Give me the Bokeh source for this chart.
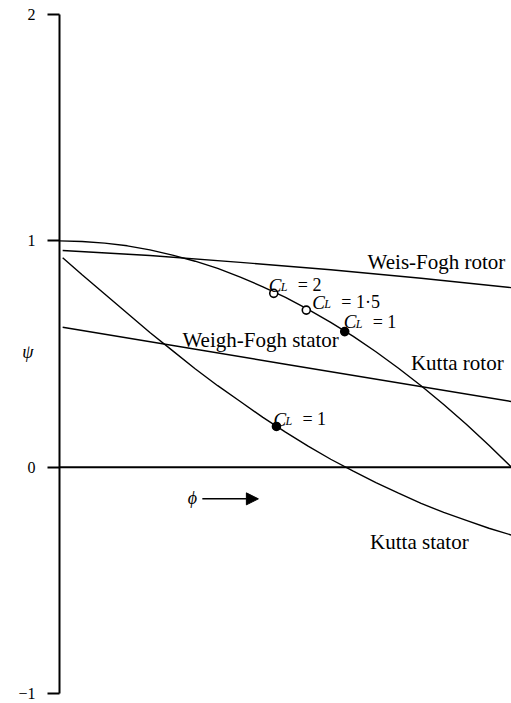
from bokeh.plotting import figure
from bokeh.models import Range1d, FixedTicker, Span, Arrow, NormalHead, ColumnDataSource
from bokeh.core.properties import value
from bokeh.embed import file_html
from bokeh.resources import INLINE

# Loading coefficient psi against flow coefficient phi for four blade cascades
kutta_rotor_phi = [0.0, 0.05, 0.1, 0.15, 0.2, 0.25, 0.3, 0.35, 0.4, 0.45, 0.5,
                   0.55, 0.6, 0.65, 0.7, 0.75, 0.8, 0.85, 0.9, 0.95, 1.0]
kutta_rotor_psi = [1.0, 0.997, 0.99, 0.978, 0.96, 0.937, 0.91, 0.878, 0.84, 0.797, 0.75,
                   0.697, 0.64, 0.578, 0.51, 0.437, 0.36, 0.277, 0.19, 0.097, 0.0]

kutta_stator_phi = [0.007, 0.05, 0.1, 0.15, 0.2, 0.25, 0.3, 0.35, 0.4, 0.45, 0.5,
                    0.55, 0.6, 0.65, 0.7, 0.75, 0.8, 0.85, 0.9, 0.95, 1.0]
kutta_stator_psi = [0.925, 0.85, 0.765, 0.68, 0.595, 0.515, 0.435, 0.36, 0.29, 0.22, 0.155,
                    0.093, 0.035, -0.018, -0.068, -0.115, -0.16, -0.2, -0.235, -0.27, -0.30]

weis_fogh_rotor_phi = [0.007, 0.2, 0.4, 0.6, 0.8, 1.0]
weis_fogh_rotor_psi = [0.957, 0.935, 0.905, 0.872, 0.835, 0.793]

weis_fogh_stator_phi = [0.007, 0.5, 1.0]
weis_fogh_stator_psi = [0.618, 0.455, 0.29]

# Operating points marked by lift coefficient
cl_phi = [0.474, 0.546, 0.631, 0.48]
cl_psi = [0.768, 0.694, 0.599, 0.18]
cl_values = ["2", "1·5", "1", "1"]
cl_filled = [False, False, True, True]

# y axis ticks
y_ticks = [-1, 0, 1, 2]
y_tick_labels = ["\u22121", "0", "1", "2"]

SERIF = value("Liberation Serif")
INK = "black"

p = figure(width=511, height=703,
           x_range=Range1d(0, 1), y_range=Range1d(-1.0442, 2.0619),
           output_backend="svg", toolbar_location=None,
           x_axis_location=None,
           min_border_left=59, min_border_right=0,
           min_border_top=0, min_border_bottom=0)
p.grid.visible = False
p.outline_line_color = None
p.background_fill_color = "white"
p.border_fill_color = "white"

ax = p.yaxis[0]
ax.ticker = FixedTicker(ticks=y_ticks, minor_ticks=[])
ax.major_label_overrides = dict(zip(y_ticks, y_tick_labels))
ax.bounds = (-1, 2)
ax.axis_line_width = 2
ax.axis_line_color = INK
ax.major_tick_in = 0
ax.major_tick_out = 12
ax.major_tick_line_width = 2
ax.major_tick_line_color = INK
ax.minor_tick_out = 0
ax.minor_tick_in = 0
ax.major_label_standoff = 12
ax.major_label_text_font = "Liberation Serif"
ax.major_label_text_font_size = "16px"
ax.major_label_text_color = INK
ax.axis_label = "\u03c8"
ax.axis_label_orientation = "horizontal"
ax.axis_label_standoff = -18
ax.axis_label_text_font = "Liberation Serif"
ax.axis_label_text_font_style = "italic"
ax.axis_label_text_font_size = "18px"
ax.axis_label_text_color = INK

# psi = 0 line
p.add_layout(Span(location=0, dimension="width", line_color=INK, line_width=2))

# curves
for xs, ys in [(kutta_rotor_phi, kutta_rotor_psi),
               (kutta_stator_phi, kutta_stator_psi),
               (weis_fogh_rotor_phi, weis_fogh_rotor_psi),
               (weis_fogh_stator_phi, weis_fogh_stator_psi)]:
    p.line(xs, ys, line_color=INK, line_width=1.4)

# lift coefficient markers and labels
dx = [-5, 6, -1, -3]
dy = [-8, -8, -10, -7]
src = ColumnDataSource(dict(
    x=cl_phi, y=cl_psi,
    fill=[INK if f else "white" for f in cl_filled],
    rest=["= " + v for v in cl_values],
    dx=dx, dy=dy,
    dx_sub=[d + 12 for d in dx], dy_sub=[d + 2 for d in dy],
    dx_rest=[d + 29 for d in dx],
))
p.scatter("x", "y", source=src, size=8, marker="circle",
          line_color=INK, line_width=1.6, fill_color="fill")
p.text("x", "y", text=value("C"), source=src, x_offset="dx", y_offset="dy",
       text_font=SERIF, text_font_style="italic", text_font_size="19px",
       text_baseline="alphabetic", text_align="left", text_color=INK)
p.text("x", "y", text=value("L"), source=src, x_offset="dx_sub", y_offset="dy_sub",
       text_font=SERIF, text_font_style="italic", text_font_size="12px",
       text_baseline="alphabetic", text_align="left", text_color=INK)
p.text("x", "y", text="rest", source=src, x_offset="dx_rest", y_offset="dy",
       text_font=SERIF, text_font_size="18px",
       text_baseline="alphabetic", text_align="left", text_color=INK)

# curve names
curve_names = ["Weis-Fogh rotor", "Kutta rotor", "Weigh-Fogh stator", "Kutta  stator"]
name_x = [0.834, 0.880, 0.445, 0.802]
name_y = [0.908, 0.461, 0.560, -0.331]
p.text(name_x, name_y, text=curve_names,
       text_font=SERIF, text_font_size="21px",
       text_baseline="alphabetic", text_align="center", text_color=INK)

# phi direction marker
p.text([0.294], [-0.136], text=["\u03d5"],
       text_font=SERIF, text_font_style="italic", text_font_size="18px",
       text_baseline="middle", text_align="center", text_color=INK)
p.add_layout(Arrow(end=NormalHead(size=12, fill_color=INK, line_color=INK),
                   x_start=0.316, y_start=-0.140, x_end=0.440, y_end=-0.140,
                   line_color=INK, line_width=1.5))

open("out.html", "w").write(file_html(p, INLINE))
